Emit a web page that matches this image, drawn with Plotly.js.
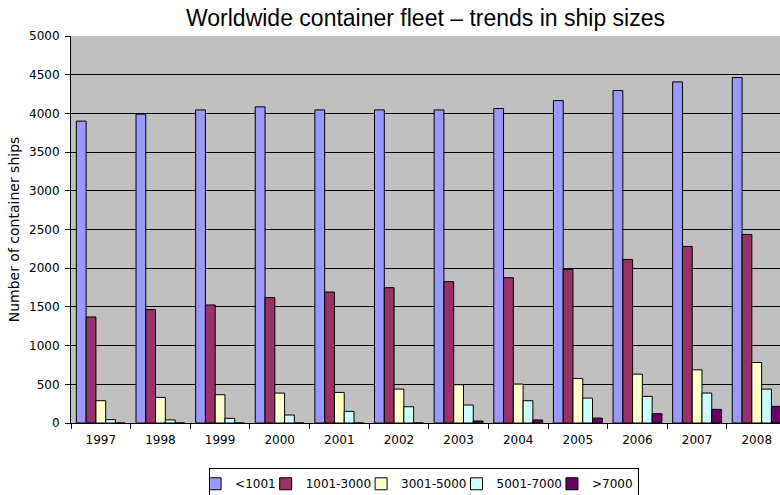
<!DOCTYPE html>
<html>
<head>
<meta charset="utf-8">
<script src="https://cdn.plot.ly/plotly-3.0.1.min.js"></script>
<style>html,body{margin:0;padding:0;background:#fff;}#chart{width:780px;height:495px;}</style>
</head>
<body>
<div id="chart"></div>
<script>
var years = ["1997","1998","1999","2000","2001","2002","2003","2004","2005","2006","2007","2008"];
var seriesNames = ["<1001","1001-3000","3001-5000","5001-7000",">7000"];
var lt1001 = [3900, 3990, 4045, 4085, 4045, 4045, 4045, 4063, 4165, 4295, 4407, 4463];
var r1001_3000 = [1370, 1465, 1525, 1620, 1692, 1748, 1826, 1877, 1985, 2113, 2281, 2436];
var r3001_5000 = [288, 331, 365, 387, 395, 438, 494, 503, 576, 631, 687, 782];
var r5001_7000 = [43, 40, 60, 103, 150, 210, 232, 288, 322, 344, 387, 438];
var gt7000 = [0, 0, 0, 0, 0, 0, 26, 39, 64, 120, 176, 215];
var colors = ["#9999FF","#993366","#FFFFCC","#CCFFFF","#660066"];

var values = [lt1001, r1001_3000, r3001_5000, r5001_7000, gt7000];
var traces = values.map(function(v, i){
  return {
    type: "bar",
    name: seriesNames[i],
    x: years,
    y: v,
    marker: {color: colors[i], line: {color: "#000000", width: 1}},
    hoverinfo: "x+y+name"
  };
});

var layout = {
  width: 780,
  height: 495,
  margin: {l: 71, r: 0, t: 36, b: 71.5, autoexpand: false},
  paper_bgcolor: "#FFFFFF",
  plot_bgcolor: "#C0C0C0",
  barmode: "group",
  bargap: 0.18,
  bargroupgap: 0,
  title: {
    text: "Worldwide container fleet \u2013 trends in ship sizes",
    font: {family: "Liberation Sans, Arial, sans-serif", size: 23, color: "#000000"},
    x: 0.5, xanchor: "center", xref: "paper",
    y: 1 - 18/495, yanchor: "middle", yref: "container"
  },
  xaxis: {
    type: "category",
    range: [-0.5, 11.39],
    tickson: "boundaries",
    ticks: "outside",
    ticklen: 5,
    tickcolor: "#000000",
    tickwidth: 1,
    showline: true,
    linecolor: "#000000",
    linewidth: 1,
    showgrid: false,
    ticklabelstandoff: 6,
    tickfont: {family: "DejaVu Sans, Verdana, sans-serif", size: 12, color: "#000000"},
    fixedrange: true
  },
  yaxis: {
    range: [0, 5000],
    dtick: 500,
    ticks: "outside",
    ticklen: 5,
    tickcolor: "#000000",
    showline: true,
    linecolor: "#000000",
    linewidth: 1,
    showgrid: true,
    gridcolor: "#000000",
    gridwidth: 1,
    zeroline: false,
    ticklabelstandoff: 3,
    tickfont: {family: "DejaVu Sans, Verdana, sans-serif", size: 12, color: "#000000"},
    title: {
      text: "Number of container ships",
      font: {family: "DejaVu Sans, Verdana, sans-serif", size: 14, color: "#000000"},
      standoff: 6
    },
    fixedrange: true
  },
  showlegend: true,
  legend: {
    orientation: "h",
    x: 0.498, xanchor: "center",
    y: -0.117, yanchor: "top",
    bgcolor: "#FFFFFF",
    bordercolor: "#000000",
    borderwidth: 1,
    itemwidth: 30,
    indentation: -15,
    font: {family: "DejaVu Sans, Verdana, sans-serif", size: 12, color: "#000000"},
    traceorder: "normal"
  }
};

Plotly.newPlot("chart", traces, layout, {displayModeBar: false, staticPlot: false});
</script>
</body>
</html>
